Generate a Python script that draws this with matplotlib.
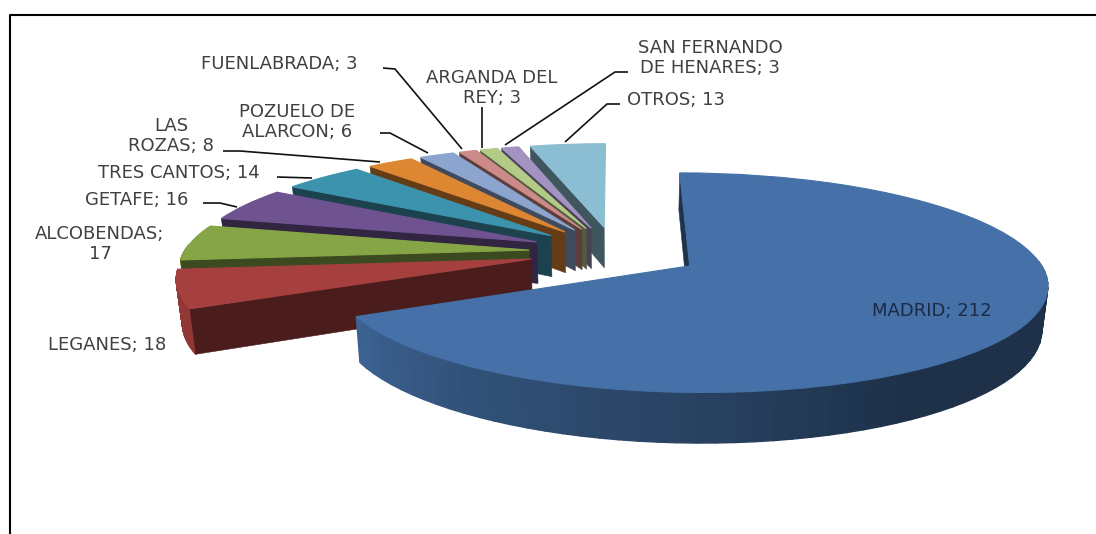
import numpy as np
import matplotlib
matplotlib.use("Agg")
import matplotlib.pyplot as plt
from matplotlib.patches import Polygon
from matplotlib.transforms import Transform
from matplotlib.colors import to_rgb

categories = ["MADRID", "LEGANES", "ALCOBENDAS", "GETAFE", "TRES CANTOS", "LAS ROZAS",
              "POZUELO DE ALARCON", "FUENLABRADA", "ARGANDA DEL REY",
              "SAN FERNANDO DE HENARES", "OTROS"]
values = [212, 18, 17, 16, 14, 8, 6, 3, 3, 3, 13]
colors = ["#4571A8", "#A5403F", "#86A546", "#6F5290", "#3C93AD", "#DE8733",
          "#8CA5CF", "#CC8A88", "#B4CB87", "#A393C1", "#8BBED3"]

label_text = ["MADRID; 212", "LEGANES; 18", "ALCOBENDAS;\n17", "GETAFE; 16", "TRES CANTOS; 14",
              "LAS\nROZAS; 8", "POZUELO DE\nALARCON; 6", "FUENLABRADA; 3",
              "ARGANDA DEL\nREY; 3", "SAN FERNANDO\nDE HENARES; 3", "OTROS; 13"]
label_pos = [(932, 311), (107, 345), (100, 244), (137, 200), (179, 173), (171, 136),
             (297, 122), (279, 64), (492, 88), (710, 58), (676, 100)]
leaders = [None, None, None,
           [(203, 203), (220, 203), (237, 207)],
           [(277, 177), (312, 178)],
           [(223, 151), (240, 151), (380, 162)],
           [(380, 133), (390, 133), (428, 153)],
           [(383, 68), (395, 69), (462, 149)],
           [(482, 107), (482, 148)],
           [(628, 72), (615, 72), (505, 145)],
           [(620, 104), (607, 104), (565, 142)]]

EXPLODE, CX, CY, SX, SY, PERSP, DEPTH, INSET = 0.25, 615, 252, 345, 103, 0.15, 42, 0.014


class Perspective(Transform):
    input_dims = output_dims = 2

    def transform_non_affine(self, values):
        p = np.asarray(values, dtype=float)
        w = 1 + PERSP * p[:, 1]
        return np.column_stack((CX + SX * p[:, 0] / w, CY - SY * p[:, 1] / w))


P = Perspective()
plt.rcParams["font.family"] = ["DejaVu Sans"]
fig = plt.figure(figsize=(10.96, 5.34), dpi=100)
ax = fig.add_axes([0, 0, 1, 1])
wedges, _ = ax.pie(values, colors=colors, explode=[EXPLODE] * len(values), startangle=90,
                   counterclock=False, frame=True, radius=1)
ax.set_aspect("auto")
ax.set_xlim(0, 1096)
ax.set_ylim(534, 0)
ax.axis("off")


def lower(xy, v):
    d = DEPTH / (1 + PERSP * v)
    return np.column_stack((CX + (xy[:, 0] - CX) * (1 - INSET), xy[:, 1] + d))


def shade(clock):
    return np.interp(clock, [90, 150, 180, 215, 244, 360],
                     [.43, .43, .58, .72, .88, .88])


for i, w in enumerate(wedges):
    z = 2 + (len(wedges) - i if i else len(wedges) + 1) * 3
    base = np.array(to_rgb(colors[i]))
    cx0, cy0 = w.center
    th = np.linspace(w.theta1, w.theta2, 90)
    ou = cx0 + np.cos(np.radians(th))
    ov = cy0 + np.sin(np.radians(th))
    top = P.transform_non_affine(np.column_stack((ou, ov)))
    bot = lower(top, ov)
    for k in range(len(th) - 1):
        mid = 0.5 * (th[k] + th[k + 1])
        if np.sin(np.radians(mid)) > 0.05:
            continue
        clock = (90 - mid) % 360
        c = np.clip(base * shade(clock), 0, 1)
        ax.add_patch(Polygon([top[k], top[k + 1], bot[k + 1], bot[k]], closed=True,
                             facecolor=c, edgecolor=c, lw=1.0, zorder=z,
                             joinstyle="round"))
    apex = P.transform_non_affine(np.array([[cx0, cy0]]))
    apex_b = lower(apex, np.array([cy0]))
    c = base * 0.45
    ax.add_patch(Polygon([top[-1], apex[0], apex_b[0], bot[-1]], closed=True,
                         facecolor=c, edgecolor=c, lw=0.4, zorder=z + 1))
    w.set_transform(P + ax.transData)
    w.set_clip_on(False)
    w.set_zorder(z + 2)
    w.set_edgecolor(colors[i])
    w.set_linewidth(0.8)

for i, (s, (x, y)) in enumerate(zip(label_text, label_pos)):
    ax.text(x, y, s, ha="center", va="center", fontsize=13, linespacing=1.1,
            color="#1C2A45" if i == 0 else "#404040", zorder=100)

for pts in leaders:
    if pts:
        ax.plot(*zip(*pts), color="#111111", lw=1.2, zorder=90, solid_capstyle="butt")

ax.plot([10, 10, 1096], [534, 15, 15], color="black", lw=1.5, zorder=95, clip_on=False)
fig.savefig("out.png", dpi=100, facecolor="white")
